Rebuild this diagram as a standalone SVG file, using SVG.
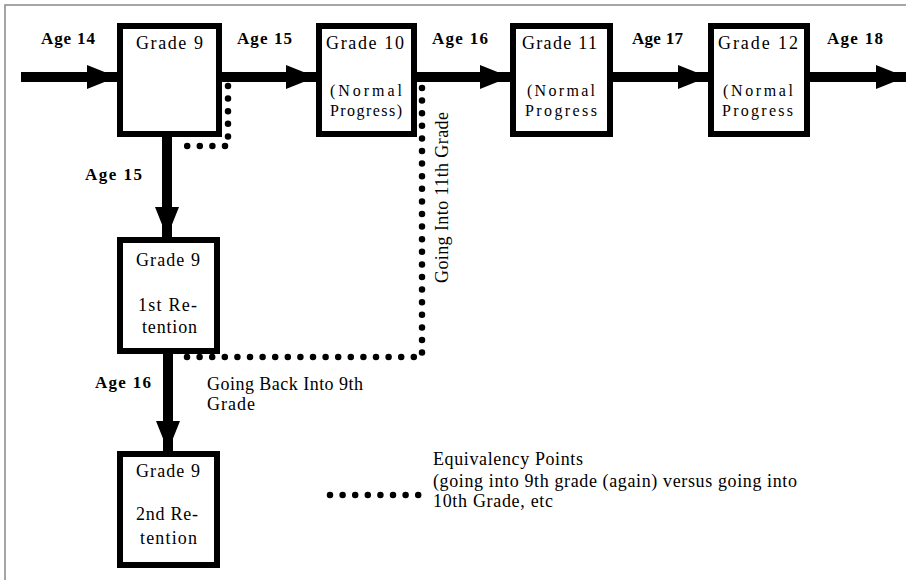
<svg xmlns="http://www.w3.org/2000/svg" width="906" height="580" viewBox="0 0 906 580">
<style>
  text { font-family: "Liberation Serif", "Times New Roman", serif; font-size: 18px; fill: #000; }
  .age { font-weight: bold; font-size: 17px; }
  .sm { font-size: 16px; }
  .box { fill: #fff; stroke: #000; stroke-width: 6; }
  .flow { stroke: #000; stroke-width: 10; fill: none; }
  .dots { stroke: #000; stroke-width: 6.5; fill: none; stroke-linecap: round; stroke-dasharray: 0 12.6; }
</style>
<defs>
  <marker id="ah" markerUnits="userSpaceOnUse" viewBox="0 0 30 24" refX="30" refY="12" markerWidth="30" markerHeight="24" orient="auto">
    <path d="M0,0 L30,12 L0,24 Z" fill="#000"/>
  </marker>
</defs>
<rect x="0" y="0" width="906" height="580" fill="#fff"/>
<path d="M5,580 V5 H906" fill="none" stroke="#888" stroke-width="1.5"/>

<g id="connectors">
  <line class="flow" x1="21" y1="77" x2="117" y2="77" marker-end="url(#ah)"/>
  <line class="flow" x1="222" y1="77" x2="316" y2="77" marker-end="url(#ah)"/>
  <line class="flow" x1="417" y1="77" x2="510" y2="77" marker-end="url(#ah)"/>
  <line class="flow" x1="613" y1="77" x2="708" y2="77" marker-end="url(#ah)"/>
  <line class="flow" x1="810" y1="77" x2="906" y2="77" marker-end="url(#ah)"/>
  <line class="flow" x1="167" y1="137" x2="167" y2="237" marker-end="url(#ah)"/>
  <line class="flow" x1="168" y1="354" x2="168" y2="451" marker-end="url(#ah)"/>
  <path class="dots" d="M228,86 V146 H178"/>
  <path class="dots" d="M422,88 V357 H177"/>
  <path class="dots" d="M330,495 H422"/>
</g>

<g id="labels">
  <text class="age" x="41" y="44" textLength="54">Age 14</text>
  <text class="age" x="237" y="44" textLength="55">Age 15</text>
  <text class="age" x="432" y="44" textLength="56">Age 16</text>
  <text class="age" x="632" y="44" textLength="51">Age 17</text>
  <text class="age" x="827" y="44" textLength="56">Age 18</text>
  <text class="age" x="85" y="180" textLength="57">Age 15</text>
  <text class="age" x="95" y="388" textLength="56">Age 16</text>
  <text x="207" y="390" textLength="156">Going Back Into 9th</text>
  <text x="207" y="410" textLength="48">Grade</text>
  <text x="448" y="283" transform="rotate(-90 448 283)" textLength="171">Going Into 11th Grade</text>
  <text x="433" y="465" textLength="150">Equivalency Points</text>
  <text x="433" y="487" textLength="364">(going into 9th grade (again) versus going into</text>
  <text x="433" y="507" textLength="120">10th Grade, etc</text>
</g>

<g id="grade9">
  <rect class="box" x="120" y="26" width="99" height="108"/>
  <text x="136" y="49" textLength="67">Grade 9</text>
</g>
<g id="grade10">
  <rect class="box" x="319" y="26" width="95" height="108"/>
  <text x="326" y="49" textLength="78">Grade 10</text>
  <text class="sm" x="330" y="96" textLength="72">(Normal</text>
  <text class="sm" x="330" y="116" textLength="72">Progress)</text>
</g>
<g id="grade11">
  <rect class="box" x="513" y="26" width="97" height="108"/>
  <text x="522" y="49" textLength="75">Grade 11</text>
  <text class="sm" x="527" y="96" textLength="68">(Normal</text>
  <text class="sm" x="525" y="116" textLength="72">Progress</text>
</g>
<g id="grade12">
  <rect class="box" x="711" y="26" width="96" height="108"/>
  <text x="718" y="49" textLength="80">Grade 12</text>
  <text class="sm" x="723" y="96" textLength="70">(Normal</text>
  <text class="sm" x="722" y="116" textLength="71">Progress</text>
</g>
<g id="retention1">
  <rect class="box" x="120" y="240" width="97" height="111"/>
  <text x="136" y="266" textLength="64">Grade 9</text>
  <text x="138" y="311" textLength="59">1st Re-</text>
  <text x="142" y="333" textLength="55">tention</text>
</g>
<g id="retention2">
  <rect class="box" x="120" y="454" width="97" height="111"/>
  <text x="136" y="477" textLength="64">Grade 9</text>
  <text x="136" y="520" textLength="62">2nd Re-</text>
  <text x="140" y="544" textLength="57">tention</text>
</g>
</svg>
